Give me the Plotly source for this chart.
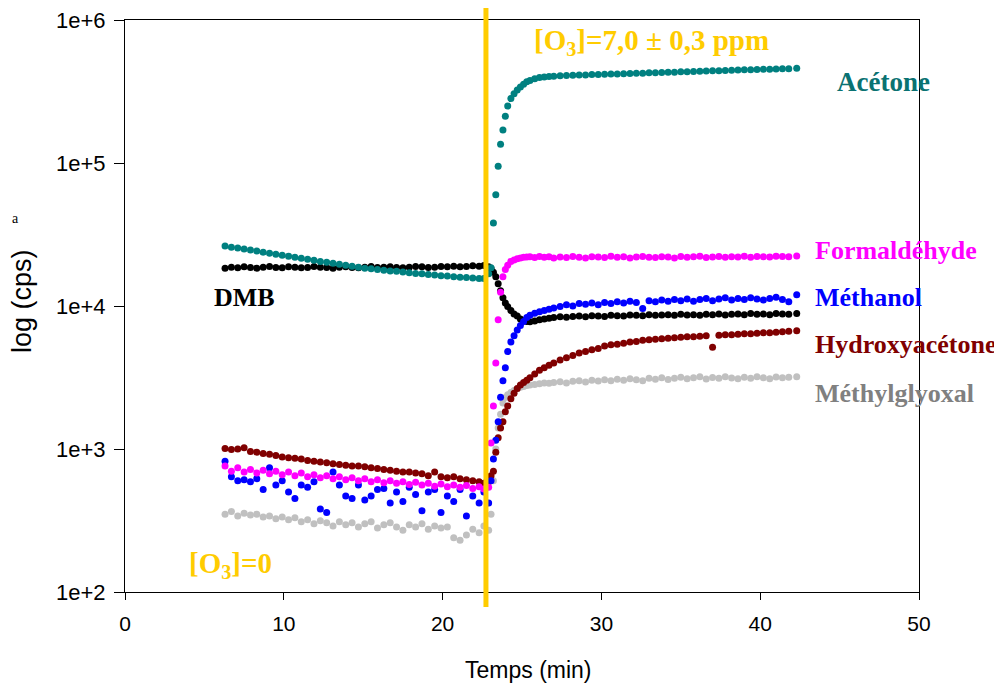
import plotly.graph_objects as go

# ---------------- data ----------------
T_PRE = [6.3, 6.7, 7.1, 7.5, 7.9, 8.3, 8.7, 9.1, 9.5, 9.9, 10.3, 10.7, 11.1, 11.5,
         11.9, 12.3, 12.7, 13.1, 13.5, 13.9, 14.3, 14.7, 15.1, 15.5, 15.9, 16.3,
         16.7, 17.1, 17.5, 17.9, 18.3, 18.7, 19.1, 19.5, 19.9, 20.3, 20.7, 21.1,
         21.5, 21.9, 22.3, 22.6]
T_POST = [22.9, 23.05, 23.2, 23.35, 23.5, 23.65, 23.8, 23.95, 24.1, 24.3, 24.5, 24.7,
          24.9, 25.1, 25.3, 25.5, 25.8, 26.1, 26.4, 26.7, 27.0, 27.4, 27.8, 28.2,
          28.6, 29.0, 29.4, 29.8, 30.2, 30.6, 31.0, 31.4, 31.8, 32.2, 32.6, 33.0,
          33.4, 33.8, 34.2, 34.6, 35.0, 35.4, 35.8, 36.2, 36.6, 37.0, 37.4, 37.8,
          38.2, 38.6, 39.0, 39.4, 39.8, 40.2, 40.6, 41.0, 41.4, 41.8, 42.3]

acetone_pre = [26300, 25800, 25400, 25000, 24600, 24200, 23800, 23400, 23000, 22600,
               22300, 21900, 21600, 21200, 20900, 20500, 20200, 19900, 19600, 19300,
               19000, 18700, 18400, 18200, 18000, 17800, 17600, 17500, 17300, 17100,
               16900, 16800, 16600, 16500, 16300, 16200, 16000, 15900, 15800, 15700,
               15600, 15600]
acetone_post = [16800, 18500, 38000, 60000, 95000, 135000, 170000, 212000, 250000,
                282000, 305000, 324000, 340000, 356000, 370000, 378000, 388000, 396000,
                400000, 403000, 405000,
                408000, 409000, 411000, 412000, 413000, 415000, 416000, 417000, 419000,
                420000, 421000, 423000, 424000, 425000, 427000, 428000, 430000, 431000,
                432000, 434000, 435000, 437000, 438000, 440000, 441000, 442000, 444000,
                445000, 447000, 448000, 449000, 451000, 452000, 453000, 455000, 456000,
                457000, 460000]

dmb_pre = [18400, 18700, 18500, 18800, 18600, 18400, 18700, 18900, 18600, 18500,
           18800, 18700, 18500, 18600, 18900, 18700, 18600, 18400, 18700, 18800,
           18600, 18500, 18700, 18900, 18600, 18700, 18800, 18600, 18500, 18700,
           18900, 18800, 18600, 18700, 18900, 18800, 19000, 18800, 18900, 19100,
           19000, 19200]
dmb_post = [18800, 18300, 17200, 16000, 14300, 12800, 11400, 10500, 9900, 9300, 8800,
            8500, 8100, 7900, 7800, 7750, 7850, 8000, 8100, 8200, 8300,
            8400, 8350, 8450, 8500, 8400, 8550, 8500, 8450, 8600, 8550, 8500, 8650,
            8600, 8550, 8700, 8600, 8650, 8700, 8600, 8750, 8650, 8700, 8600, 8750,
            8700, 8800, 8650, 8750, 8800, 8700, 8850, 8750, 8800, 8700, 8850, 8800,
            8750, 8850]

formal_pre = [760, 700, 740, 690, 720, 680, 710, 670, 700, 660, 690, 650, 680, 640,
              660, 630, 650, 620, 640, 610, 630, 600, 620, 590, 610, 580, 600, 575,
              590, 565, 585, 560, 575, 550, 570, 545, 560, 540, 555, 530, 545, 525]
formal_post = [540, 1100, 2000, 4000, 8000, 12500, 16000, 18000, 19300, 20500, 21000,
               21400, 21700, 21900, 22000, 22100, 21800, 22200, 21900, 22100, 21700,
               22000, 21800, 22200, 21900, 21700, 22100, 22000, 21800, 22300, 21900,
               22100, 21700, 22000, 22200, 21900, 21800, 22100, 22000, 21700, 22200,
               21900, 22100, 22300, 21800, 22000, 22200, 21900, 22100, 22000, 22300,
               21900, 22200, 22100, 22000, 22300, 22200, 22100, 22400]

methanol_pre = [820, 640, 600, 610, 590, 620, 520, 740, 560, 600, 500, 450, 560, 540,
                590, 380, 360, 690, 560, 470, 450, 560, 440, 470, 520, 530, 420, 500,
                430, 540, 480, 370, 500, 520, 360, 470, 430, 520, 340, 470, 420, 500]
methanol_post = [420, 600, 850, 1150, 1550, 2300, 3000, 3700, 4800, 5600, 6200, 6800,
                 7300, 7800, 8300, 8600, 8900, 9100, 9300, 9500, 9700,
                 9900, 10200, 10000, 10400, 10300, 10500, 10200, 10600, 10400, 10700,
                 10500, 10800, 10600, 9600, 10900, 10700, 11000, 10800, 11100, 10900,
                 11200, 10800, 11100, 11300, 10900, 11200, 11400, 11000, 11300, 11100,
                 11400, 11200, 11000, 11300, 11500, 11100, 10700, 12000]

hydroxy_pre = [1010, 990, 1000, 1020, 960, 950, 930, 920, 900, 880, 870, 860, 850, 830,
               820, 810, 800, 790, 780, 770, 760, 760, 750, 740, 730, 720, 710, 700,
               690, 690, 680, 670, 650, 690, 640, 630, 640, 620, 610, 600, 590, 575]
hydroxy_post = [590, 650, 700, 950, 1200, 1400, 1550, 1820, 2000, 2250, 2450, 2650, 2800,
                2920, 3030, 3150, 3350, 3550, 3700, 3850, 4000,
                4190, 4350, 4500, 4700, 4800, 4950, 5050, 5250, 5350, 5400, 5500, 5600,
                5650, 5770, 5800, 5850, 5900, 5950, 6000, 6050, 6100, 6100, 6150, 6200,
                5150, 6250, 6300, 6300, 6350, 6400, 6400, 6450, 6500, 6500, 6550, 6600,
                6650, 6700]

glyox_pre = [350, 365, 340, 355, 345, 350, 335, 340, 325, 335, 320, 330, 310, 320, 300,
             315, 305, 290, 310, 295, 305, 285, 300, 310, 280, 295, 305, 285, 270, 295,
             285, 300, 275, 290, 280, 285, 240, 230, 250, 275, 260, 290]
glyox_post = [270, 350, 600, 1000, 1400, 1750, 2100, 2290, 2400, 2480, 2560, 2640, 2700,
              2740, 2780, 2800, 2830, 2860, 2900, 2880, 2920,
              2950, 2900, 2980, 3000, 2940, 3030, 2990, 3050, 3000, 3080, 3020, 3100,
              3050, 3000, 3120, 3080, 3150, 3060, 3120, 3180, 3100, 3150, 3200, 3090,
              3160, 3120, 3200, 3140, 3100, 3180, 3120, 3200, 3150, 3100, 3190, 3150,
              3180, 3200]

O3_SWITCH_TIME = 22.73
Y_TICKS = [1e2, 1e3, 1e4, 1e5, 1e6]
Y_TICK_TEXT = ["1e+2", "1e+3", "1e+4", "1e+5", "1e+6"]
X_TICKS = [0, 10, 20, 30, 40, 50]

# ---------------- figure ----------------
series = [
    ("Méthylglyoxal", glyox_pre, glyox_post, "#C0C0C0"),
    ("Hydroxyacétone", hydroxy_pre, hydroxy_post, "#800000"),
    ("DMB", dmb_pre, dmb_post, "#000000"),
    ("Méthanol", methanol_pre, methanol_post, "#0000FF"),
    ("Formaldéhyde", formal_pre, formal_post, "#FF00FF"),
    ("Acétone", acetone_pre, acetone_post, "#008080"),
]

fig = go.Figure()
for name, pre, post, col in series:
    assert len(pre) == len(T_PRE), name
    assert len(post) == len(T_POST), name
    fig.add_trace(go.Scatter(
        x=T_PRE + T_POST, y=pre + post, mode="markers", name=name,
        marker=dict(size=7, color=col, line=dict(width=0)),
        showlegend=False, cliponaxis=False))

# page pixel positions of the plot area (page has an 8px body margin)
OFF = 8
L, R, T, B = 125, 919, 20, 592
W, H = 1002 - OFF, 691 - OFF


def px(x):
    return (x - L) / (R - L)


def py(y):
    return (B - y) / (B - T)


fig.add_shape(type="line", xref="x", yref="paper",
              x0=O3_SWITCH_TIME, x1=O3_SWITCH_TIME, y0=py(607), y1=py(8),
              line=dict(color="#FFCC00", width=5), layer="above")

serif = "Liberation Serif, Times New Roman, serif"
sans = "Liberation Sans, Arial, sans-serif"


def label(text, x, y, color, size=26, xanchor="center", bold=True, font=serif, angle=0):
    fig.add_annotation(text=f"<b>{text}</b>" if bold else text,
                       xref="paper", yref="paper", x=px(x), y=py(y),
                       xanchor=xanchor, yanchor="middle", showarrow=False,
                       textangle=angle,
                       font=dict(family=font, size=size, color=color))


label("[O<sub>3</sub>]=7,0 ± 0,3 ppm", 651, 42, "#FFCC00", size=29)
label("Acétone", 883, 82, "#0A7272", size=27)
label("Formaldéhyde", 813, 250, "#FF00FF", xanchor="left")
label("Méthanol", 813, 297, "#0000FF", xanchor="left")
label("Hydroxyacétone", 813, 345, "#800000", xanchor="left")
label("Méthylglyoxal", 813, 393, "#808080", xanchor="left")
label("DMB", 244, 297, "#000000")
label("[O<sub>3</sub>]=0", 230, 565, "#FFCC00", size=29)
label("a", 15, 218, "#000000", size=14, bold=False)
label("log (cps)", 22, 301, "#000000", size=27, bold=False, font=sans, angle=-90)
label("Temps (min)", 528, 670, "#000000", size=23, bold=False, font=sans)

fig.update_layout(
    width=W, height=H,
    margin=dict(l=L - OFF, r=W - (R - OFF), t=T - OFF, b=H - (B - OFF)),
    paper_bgcolor="white", plot_bgcolor="white",
    font=dict(family=sans, size=20, color="black"),
    xaxis=dict(range=[0, 50], tickvals=X_TICKS, ticks="outside", ticklen=7,
               tickwidth=1, tickcolor="black", showline=True, linecolor="black",
               linewidth=1, mirror=True, showgrid=False, zeroline=False,
               automargin=False, ticklabelstandoff=6, ticklabeloverflow="allow",
               tickfont=dict(family=sans, size=21)),
    yaxis=dict(type="log", range=[2, 6], tickvals=Y_TICKS, ticktext=Y_TICK_TEXT,
               ticks="outside", ticklen=10, tickwidth=1, tickcolor="black",
               showline=True, linecolor="black", linewidth=1, mirror=True,
               showgrid=False, zeroline=False, automargin=False,
               ticklabelstandoff=4, ticklabeloverflow="allow",
               tickfont=dict(family=sans, size=22)),
)

fig.write_html("out.html")
